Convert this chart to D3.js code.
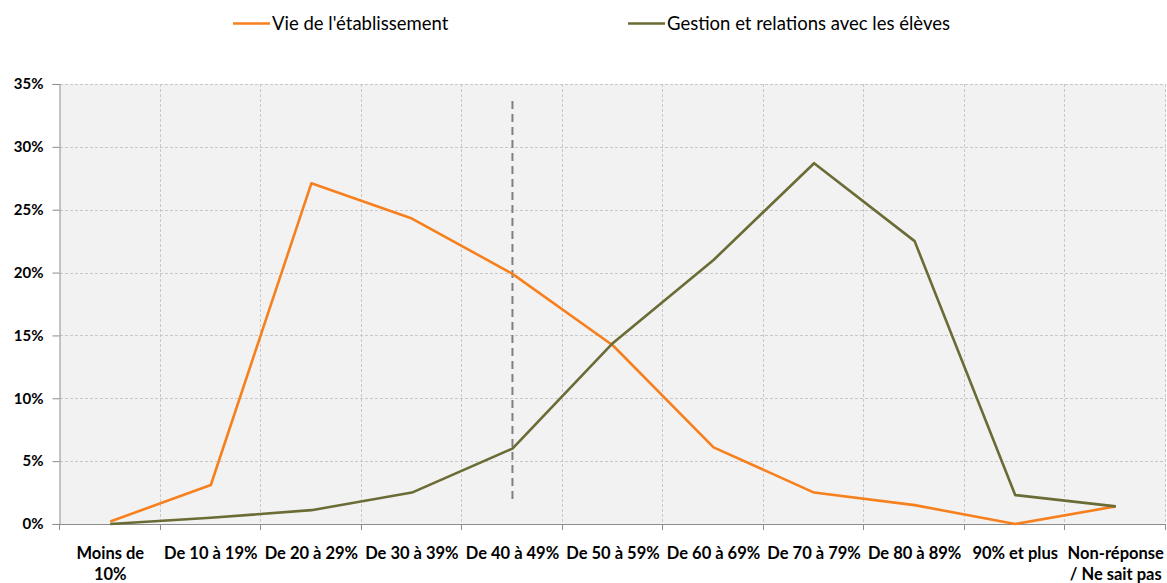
<!DOCTYPE html>
<html>
<head>
  <meta charset="utf-8">
  <title>Vie de l'établissement / Gestion et relations</title>
  <script src="https://d3js.org/d3.v7.min.js"></script>
  <style type="text/css">
    body { margin: 0; background: #fff; }
    text { font-family: Lato, "Open Sans", sans-serif; fill: #000; }
  </style>
</head>
<body>
<script>

// categories (x axis)
var categories = ["Moins de 10%", "De 10 à 19%", "De 20 à 29%", "De 30 à 39%", "De 40 à 49%",
  "De 50 à 59%", "De 60 à 69%", "De 70 à 79%", "De 80 à 89%", "90% et plus", "Non-réponse / Ne sait pas"];
// wrapped labels as in the picture
var catLines = [["Moins de", "10%"], ["De 10 à 19%"], ["De 20 à 29%"], ["De 30 à 39%"], ["De 40 à 49%"],
  ["De 50 à 59%"], ["De 60 à 69%"], ["De 70 à 79%"], ["De 80 à 89%"], ["90% et plus"], ["Non-réponse", "/ Ne sait pas"]];

var seriesNames = ["Vie de l'établissement", "Gestion et relations avec les élèves"];
var vie = [0.2, 3.1, 27.1, 24.3, 19.9, 14.2, 6.1, 2.5, 1.5, 0.0, 1.4];
var gestion = [0.0, 0.5, 1.1, 2.5, 6.0, 14.4, 21.0, 28.7, 22.5, 2.3, 1.4];
var yTicks = [0, 5, 10, 15, 20, 25, 30, 35];
var markerCategory = "De 40 à 49%";

var width = 1167, height = 583;
var margin = {top: 84, right: 1, bottom: 59, left: 60};
var colors = ["#F7801E", "#6B6B35"];

var svg = d3.select("body").append("svg").attr("width", width).attr("height", height);

var x = d3.scaleBand().domain(categories).range([margin.left, width - margin.right]);
var y = d3.scaleLinear().domain([0, 35]).range([height - margin.bottom, margin.top]);

// plot background
svg.append("rect")
  .attr("x", x.range()[0]).attr("y", y(35))
  .attr("width", x.range()[1] - x.range()[0]).attr("height", y(0) - y(35))
  .attr("fill", "#F2F2F2");

// horizontal grid
svg.append("g").selectAll("line").data(yTicks.slice(1)).enter().append("line")
  .attr("x1", x.range()[0]).attr("x2", x.range()[1])
  .attr("y1", function(d){ return Math.round(y(d)) + 0.5; })
  .attr("y2", function(d){ return Math.round(y(d)) + 0.5; })
  .attr("stroke", "#C8C8C8").attr("stroke-dasharray", "3,2");

// vertical grid at category boundaries
var bounds = categories.map(function(c){ return x(c); }).concat([x.range()[1]]);
svg.append("g").selectAll("line").data(bounds.slice(1)).enter().append("line")
  .attr("x1", function(d){ return Math.round(d) - 0.5; })
  .attr("x2", function(d){ return Math.round(d) - 0.5; })
  .attr("y1", y(35)).attr("y2", y(0))
  .attr("stroke", "#C8C8C8").attr("stroke-dasharray", "3,2");

// y axis
var yAxis = svg.append("g")
  .attr("transform", "translate(" + (margin.left - 0.5) + ",0)")
  .call(d3.axisLeft(y).tickValues(yTicks).tickFormat(function(d){ return d + "%"; }).tickSizeOuter(0).tickSize(7).tickPadding(9));
yAxis.selectAll("path, line").attr("stroke", "#8C8C8C");
yAxis.selectAll("text").attr("font-size", "15px").attr("font-weight", "bold").attr("font-family", "Lato, sans-serif").attr("fill", "#000");

// x axis line and ticks
svg.append("line")
  .attr("x1", x.range()[0]).attr("x2", x.range()[1])
  .attr("y1", y(0) + 0.5).attr("y2", y(0) + 0.5)
  .attr("stroke", "#8C8C8C");
svg.append("g").selectAll("line").data(bounds).enter().append("line")
  .attr("x1", function(d){ return Math.round(d) - 0.5; })
  .attr("x2", function(d){ return Math.round(d) - 0.5; })
  .attr("y1", y(0)).attr("y2", y(0) + 6)
  .attr("stroke", "#8C8C8C");

// x labels
var xl = svg.append("g").selectAll("text").data(categories).enter().append("text")
  .attr("x", function(d){ return x(d) + x.bandwidth() / 2; })
  .attr("y", 559)
  .attr("text-anchor", "middle")
  .attr("font-size", "16.5px").attr("font-weight", "bold");
xl.each(function(d, i){
  var t = d3.select(this);
  catLines[i].forEach(function(line, j){
    t.append("tspan").attr("x", x(d) + x.bandwidth() / 2).attr("dy", j === 0 ? 0 : 21).text(line);
  });
});

// dashed marker line
svg.append("line")
  .attr("x1", x(markerCategory) + x.bandwidth() / 2).attr("x2", x(markerCategory) + x.bandwidth() / 2)
  .attr("y1", 101).attr("y2", 500)
  .attr("stroke", "#7F7F7F").attr("stroke-width", 2).attr("stroke-dasharray", "8,5");

// lines
var line = d3.line()
  .x(function(d, i){ return x(categories[i]) + x.bandwidth() / 2; })
  .y(function(d){ return y(d); });

[vie, gestion].forEach(function(s, k){
  svg.append("path").datum(s)
    .attr("d", line)
    .attr("fill", "none")
    .attr("stroke", colors[k])
    .attr("stroke-width", 2.6)
    .attr("stroke-linejoin", "round");
});

// legend
var legendX = [233, 628];
seriesNames.forEach(function(n, k){
  svg.append("line")
    .attr("x1", legendX[k]).attr("x2", legendX[k] + 37)
    .attr("y1", 23.5).attr("y2", 23.5)
    .attr("stroke", colors[k]).attr("stroke-width", 2.6);
  svg.append("text")
    .attr("x", legendX[k] + 39).attr("y", 30)
    .attr("font-size", "18.5px")
    .text(n);
});

</script>
</body>
</html>
